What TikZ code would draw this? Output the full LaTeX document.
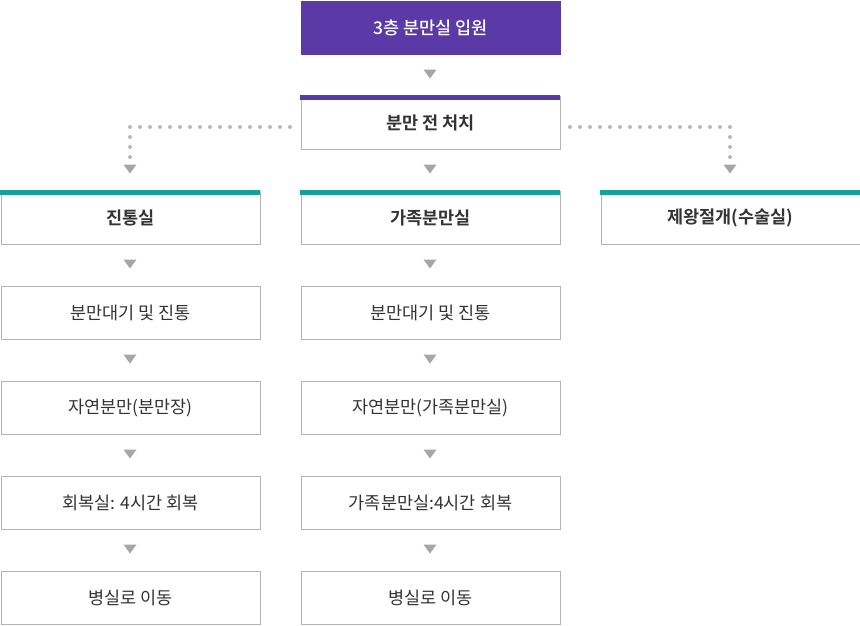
\documentclass[tikz,border=0pt]{standalone}
\usepackage{fontspec}
\setmainfont{Noto Sans CJK KR}[BoldFont={Noto Sans CJK KR Bold}]
\newfontfamily\medfont{Noto Sans CJK KR Medium}
\begin{document}
\begin{tikzpicture}[x=1pt,y=-1pt,
  box/.style={draw=boxgray,line width=1pt,fill=white,minimum width=259pt,minimum height=53pt,inner sep=0pt,anchor=north west,font=\fontsize{17.5}{20}\selectfont,text=txt},
  head/.style={box,font=\fontsize{17.5}{20}\selectfont\bfseries},
  dots/.style={draw=dotgray,line width=4pt,line cap=round,dash pattern=on 0pt off 10pt}]
\definecolor{boxgray}{HTML}{B4B4B4}
\definecolor{arrgray}{HTML}{A6A6A6}
\definecolor{dotgray}{HTML}{B8B8B8}
\definecolor{purp}{HTML}{5B3AA8}
\definecolor{teal}{HTML}{13A39A}
\definecolor{txt}{HTML}{333333}
\useasboundingbox (0,0) rectangle (860,625);
\def\tri(#1,#2){\fill[arrgray] (#1-6.5,#2-4.5) -- (#1+6.5,#2-4.5) -- (#1,#2+4.5) -- cycle;}
% top
\node[box,draw=none,fill=purp,text=white,minimum width=260pt,minimum height=54pt] (top) at (300,0) {\medfont 3층 분만실 입원};
\tri(430,74)
\node[head] (pre) at (300.5,95.5) {분만 전 처치};
\fill[purp] (300,95) rectangle (560,99.5);
% dotted branches
\coordinate (lh) at (130,127);
\coordinate (rh) at (730,127);
\draw[dots] (290,127) -- (lh) -- (130,158);
\draw[dots] (570,127) -- (rh) -- (730,158);
\tri(130,169)
\tri(730,169)
\tri(430,169)
% row 1
\node[head] (a1) at (0.5,190.5) {진통실};
\node[head] (b1) at (300.5,190.5) {가족분만실};
\node[head] (c1) at (600.5,190.5) {제왕절개(수술실)};
\foreach \x in {0,300,600} \fill[teal] (\x,190) rectangle (\x+260,194.5);
% rows
\node[box] (a2) at (0.5,285.5) {분만대기 및 진통};
\node[box] (b2) at (300.5,285.5) {분만대기 및 진통};
\node[box] (a3) at (0.5,380.5) {자연분만(분만장)};
\node[box] (b3) at (300.5,380.5) {자연분만(가족분만실)};
\node[box] (a4) at (0.5,475.5) {회복실: 4시간 회복};
\node[box] (b4) at (300.5,475.5) {가족분만실:4시간 회복};
\node[box] (a5) at (0.5,570.5) {병실로 이동};
\node[box] (b5) at (300.5,570.5) {병실로 이동};
\foreach \y in {264,359,454,549} {\tri(130,\y) \tri(430,\y)}
\end{tikzpicture}
\end{document}
